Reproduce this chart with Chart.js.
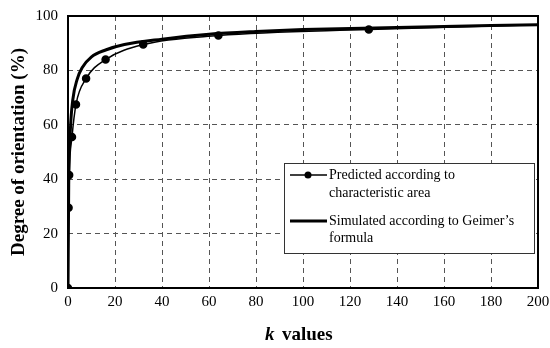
<!DOCTYPE html>
<html>
<head>
<meta charset="utf-8">
<script src="https://cdn.jsdelivr.net/npm/chart.js@4.4.0/dist/chart.umd.min.js"></script>
<style>
  html, body { margin: 0; padding: 0; background: #fff; }
  #wrap { width: 550px; height: 348px; }
</style>
</head>
<body>
<div id="wrap"><canvas id="orient-chart" width="550" height="348"></canvas></div>
<script>
// k values and degree of orientation
var predK = [0, 0.25, 0.5, 1.7, 3.4, 7.7, 16, 32, 64, 128, 200];
var predVal = [0, 29.5, 41.5, 55.5, 67.5, 77, 84, 89.5, 92.8, 95, 96.8];
var simK = [0, 0.3, 1, 2, 4, 6, 10, 16, 24, 40, 60, 80, 100, 140, 200];
var simVal = [0, 38, 58, 69, 77, 81, 85, 87.5, 89.5, 91.5, 93.3, 94.3, 95, 95.8, 96.8];
var xTicks = [0, 20, 40, 60, 80, 100, 120, 140, 160, 180, 200];
var yTicks = [0, 20, 40, 60, 80, 100];

var serif = "'Liberation Serif', 'Times New Roman', serif";

function toPoints(xs, ys) {
  return xs.map(function (x, i) { return { x: x, y: ys[i] }; });
}

// frame round the plot area + legend box inside it
var framePlugin = {
  id: 'frame',
  afterDraw: function (chart) {
    var ctx = chart.ctx, a = chart.chartArea;
    ctx.save();
    ctx.strokeStyle = '#000';
    ctx.lineWidth = 2;
    ctx.strokeRect(a.left, a.top, a.right - a.left, a.bottom - a.top);

    // legend
    var bx = 284, by = 163, bw = 250, bh = 90;
    ctx.fillStyle = '#fff';
    ctx.fillRect(bx, by, bw, bh);
    ctx.lineWidth = 1;
    ctx.strokeStyle = '#333';
    ctx.strokeRect(bx + 0.5, by + 0.5, bw, bh);

    ctx.fillStyle = '#000';
    ctx.font = '14px ' + serif;
    ctx.textBaseline = 'middle';
    ctx.textAlign = 'left';

    ctx.strokeStyle = '#000';
    ctx.lineWidth = 1.5;
    ctx.beginPath(); ctx.moveTo(bx + 6, by + 12); ctx.lineTo(bx + 43, by + 12); ctx.stroke();
    ctx.beginPath(); ctx.arc(bx + 24, by + 12, 3.5, 0, Math.PI * 2); ctx.fill();
    ctx.fillText('Predicted according to', bx + 45, by + 12);
    ctx.fillText('characteristic area', bx + 45, by + 30);

    ctx.lineWidth = 3;
    ctx.beginPath(); ctx.moveTo(bx + 6, by + 58); ctx.lineTo(bx + 43, by + 58); ctx.stroke();
    ctx.fillText('Simulated according to Geimer\u2019s', bx + 45, by + 58);
    ctx.fillText('formula', bx + 45, by + 75);

    // x axis title with italic k
    ctx.font = 'italic bold 19px ' + serif;
    ctx.fillText('k', 265, 335);
    ctx.font = 'bold 19px ' + serif;
    ctx.fillText('values', 282, 335);
    ctx.restore();
  }
};

new Chart(document.getElementById('orient-chart'), {
  type: 'scatter',
  data: {
    datasets: [
      {
        label: 'Predicted according to characteristic area',
        data: toPoints(predK, predVal),
        showLine: true,
        borderColor: '#000',
        backgroundColor: '#000',
        borderWidth: 1.5,
        pointRadius: predK.map(function (k, i) { return i === predK.length - 1 ? 0 : 3.5; }),
        cubicInterpolationMode: 'monotone'
      },
      {
        label: "Simulated according to Geimer's formula",
        data: toPoints(simK, simVal),
        showLine: true,
        borderColor: '#000',
        backgroundColor: '#000',
        borderWidth: 3,
        pointRadius: 0,
        cubicInterpolationMode: 'monotone'
      }
    ]
  },
  options: {
    responsive: false,
    animation: false,
    layout: { padding: { top: 16, right: 12, left: 0, bottom: 0 } },
    plugins: {
      legend: { display: false },
      tooltip: { enabled: false }
    },
    scales: {
      x: {
        type: 'linear',
        min: 0,
        max: 200,
        afterBuildTicks: function (s) { s.ticks = xTicks.map(function (v) { return { value: v }; }); },
        afterFit: function (s) { s.height = 60; s.paddingRight = 0; s.paddingLeft = 0; },
        grid: { color: '#555', drawTicks: false, lineWidth: 1 },
        border: { display: false, dash: [5, 4] },
        ticks: { color: '#000', padding: 5, maxRotation: 0, font: { family: serif, size: 15 } }
      },
      y: {
        min: 0,
        max: 100,
        afterBuildTicks: function (s) { s.ticks = yTicks.map(function (v) { return { value: v }; }); },
        afterFit: function (s) { s.width = 68; s.paddingTop = 0; s.paddingBottom = 0; },
        grid: { color: '#555', drawTicks: false, lineWidth: 1 },
        border: { display: false, dash: [5, 4] },
        ticks: { color: '#000', padding: 10, font: { family: serif, size: 15 } },
        title: {
          display: true,
          text: 'Degree of orientation (%)',
          color: '#000',
          padding: { top: 8, bottom: 0 },
          font: { family: serif, size: 19, weight: 'bold' }
        }
      }
    }
  },
  plugins: [framePlugin]
});
</script>
</body>
</html>
